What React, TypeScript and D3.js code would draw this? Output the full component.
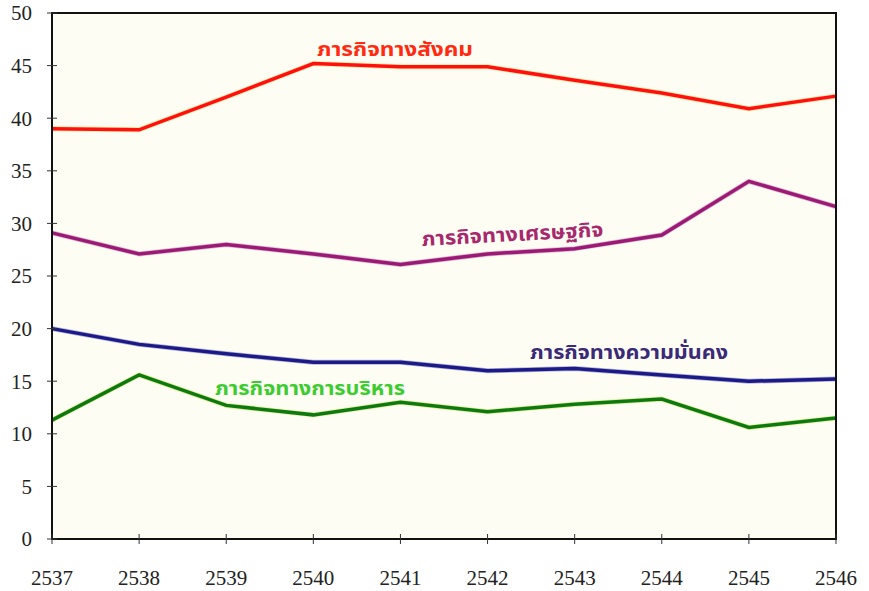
import React from "react";
import * as d3 from "d3";

const years = [2537, 2538, 2539, 2540, 2541, 2542, 2543, 2544, 2545, 2546];
const yTicks = [0, 5, 10, 15, 20, 25, 30, 35, 40, 45, 50];

const socialValues = [39.0, 38.9, 42.0, 45.2, 44.9, 44.9, 43.6, 42.4, 40.9, 42.1];
const economicValues = [29.1, 27.1, 28.0, 27.1, 26.1, 27.1, 27.6, 28.9, 34.0, 31.6];
const securityValues = [20.0, 18.5, 17.6, 16.8, 16.8, 16.0, 16.2, 15.6, 15.0, 15.2];
const adminValues = [11.3, 15.6, 12.7, 11.8, 13.0, 12.1, 12.8, 13.3, 10.6, 11.5];

const seriesNames = [
  "ภารกิจทางสังคม",
  "ภารกิจทางเศรษฐกิจ",
  "ภารกิจทางความมั่นคง",
  "ภารกิจทางการบริหาร",
];

const W = 869;
const H = 591;
const left = 52;
const right = 836;
const top = 13;
const bottom = 539;

export default function App() {
  const x = d3.scaleLinear().domain([2537, 2546]).range([left, right]);
  const y = d3.scaleLinear().domain([0, 50]).range([bottom, top]);
  const line = d3
    .line<number>()
    .x((_, i) => x(years[i]))
    .y((d) => y(d));

  const series = [
    { values: socialValues, stroke: "#ff1010", halo: "#ffd040" },
    { values: economicValues, stroke: "#9a1a78", halo: "#d070a0" },
    { values: securityValues, stroke: "#1c1a86", halo: "#6a6ac0" },
    { values: adminValues, stroke: "#0c7a10", halo: "#c8e030" },
  ];

  const labels = [
    { text: seriesNames[0], x: 317, y: 56, w: 156, fill: "#ff2a10", rot: 0 },
    { text: seriesNames[1], x: 422, y: 246, w: 182, fill: "#a8286e", rot: -3 },
    { text: seriesNames[2], x: 530, y: 359, w: 198, fill: "#3a2a78", rot: 0 },
    { text: seriesNames[3], x: 215, y: 395, w: 190, fill: "#3ccc30", rot: 0 },
  ];

  const thaiFont = "'Noto Sans Thai', 'Loma', 'Garuda', 'Tlwg Typo', 'DejaVu Sans', sans-serif";
  const serif = "Liberation Serif";

  return (
    <svg
      width={W}
      height={H}
      style={{ position: "absolute", left: 0, top: 0, background: "#ffffff" }}
    >
      <rect x={left} y={top} width={right - left} height={bottom - top} fill="#fdfdf4" />
      {series.map((s, i) => (
        <g key={i}>
          <path d={line(s.values) || ""} fill="none" stroke={s.halo} strokeWidth={5} strokeLinejoin="round" opacity={0.5} />
          <path d={line(s.values) || ""} fill="none" stroke={s.stroke} strokeWidth={3.5} strokeLinejoin="miter" />
        </g>
      ))}
      <rect x={left} y={top} width={right - left} height={bottom - top} fill="none" stroke="#111" strokeWidth={2} />
      <g fontFamily={serif} fontSize={21} fill="#222">
        {yTicks.map((t) => (
          <g key={"y" + t}>
            <line x1={left - 5} x2={left + 5} y1={y(t)} y2={y(t)} stroke="#333" strokeWidth={1} />
            <text x={32} y={y(t)} dy="0.35em" textAnchor="end">
              {t}
            </text>
          </g>
        ))}
        {years.map((yr) => (
          <g key={"x" + yr}>
            <line x1={x(yr)} x2={x(yr)} y1={bottom - 5} y2={bottom + 5} stroke="#333" strokeWidth={1} />
            <text x={x(yr)} y={578} dy="0.35em" textAnchor="middle">
              {yr}
            </text>
          </g>
        ))}
      </g>
      {labels.map((l, i) => (
        <text
          key={"l" + i}
          x={l.x}
          y={l.y}
          style={{ fontFamily: thaiFont, fontWeight: "bold", fontSize: 20 }}
          fill={l.fill}
          textLength={l.w}
          lengthAdjust="spacingAndGlyphs"
          transform={l.rot ? `rotate(${l.rot} ${l.x} ${l.y})` : undefined}
        >
          {l.text}
        </text>
      ))}
    </svg>
  );
}
